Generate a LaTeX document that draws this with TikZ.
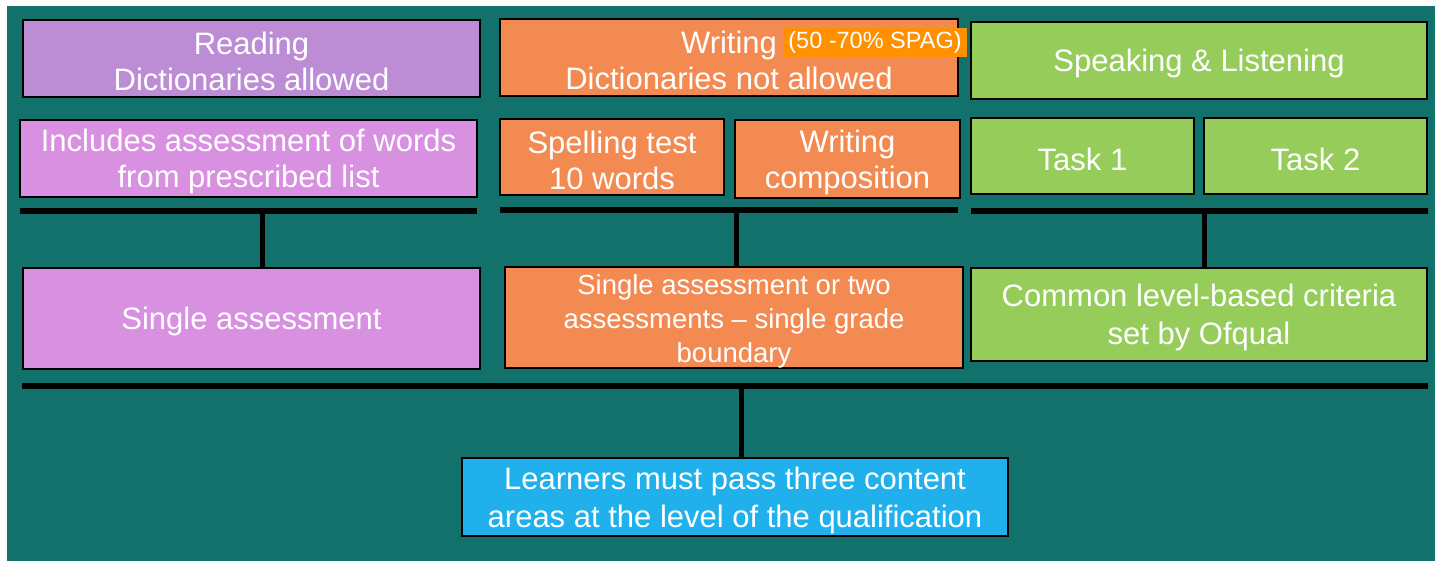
\documentclass[tikz,border=0pt]{standalone}
\usepackage{fontspec}
\setmainfont{Liberation Sans}
\definecolor{bgc}{RGB}{19,113,108}
\definecolor{readc}{RGB}{188,141,212}
\definecolor{pinkc}{RGB}{216,144,224}
\definecolor{orc}{RGB}{243,138,82}
\definecolor{spagc}{RGB}{255,145,0}
\definecolor{grc}{RGB}{150,205,90}
\definecolor{bluec}{RGB}{32,176,236}
\newcommand\tsh{\rule{0pt}{29pt}}
\newcommand\tshs{\rule{0pt}{28pt}}
\begin{document}
\begin{tikzpicture}[x=1pt,y=-1pt,
  box/.style={draw=black, line width=2pt, text=white, align=center, inner sep=0pt,
    font=\fontsize{31}{36}\selectfont},
  bar/.style={line width=6pt, draw=black},
  vline/.style={line width=5pt, draw=black}]
\useasboundingbox (0,0) rectangle (1435,560);
\fill[bgc] (7,6) rectangle (1436,561);
% row 1
\node[box, fill=readc, minimum width=457pt, minimum height=77pt] (read) at (251.5,58.5) {\tsh Reading\\Dictionaries allowed};
\node[box, fill=orc, minimum width=458pt, minimum height=77pt] (writ) at (729,57.5) {\tsh Writing\\Dictionaries not allowed};
\node[box, fill=grc, minimum width=456pt, minimum height=77pt] (speak) at (1199,60.5) {\tsh Speaking \& Listening};
\node[fill=spagc, text=white, inner sep=0pt, minimum width=184pt, minimum height=29pt,
  font=\fontsize{23.5}{28}\selectfont] (spag) at (875,42.5) {(50 -70\% SPAG)};
% row 2
\node[box, fill=pinkc, minimum width=457pt, minimum height=77pt] (incl) at (248.5,158.5) {\tsh Includes assessment of words\\from prescribed list};
\node[box, fill=orc, minimum width=224pt, minimum height=76pt] (spell) at (612,157) {\tsh Spelling test\\10 words};
\node[box, fill=orc, minimum width=225pt, minimum height=78pt] (comp) at (847.5,159) {\tsh Writing\\composition};
\node[box, fill=grc, minimum width=223pt, minimum height=76pt] (task1) at (1082.5,156) {\tsh Task 1};
\node[box, fill=grc, minimum width=223pt, minimum height=76pt] (task2) at (1315.5,156) {\tsh Task 2};
% row 3
\node[box, fill=pinkc, minimum width=457pt, minimum height=101pt] (single) at (251.5,318.5) {\tsh Single assessment};
\node[box, fill=orc, minimum width=458pt, minimum height=99pt, font=\fontsize{27.5}{34}\selectfont] (two) at (734,317.5) {\tshs Single assessment or two\\assessments -- single grade\\boundary};
\node[box, fill=grc, minimum width=456pt, minimum height=93pt, font=\fontsize{31}{38}\selectfont] (common) at (1199,314.5) {\tsh Common level-based criteria\\set by Ofqual};
% bottom
\node[box, fill=bluec, minimum width=546pt, minimum height=78pt, font=\fontsize{31}{38}\selectfont] (learn) at (735,497) {\tsh Learners must pass three content\\areas at the level of the qualification};
% bars and connectors
\coordinate (b1l) at (20,211);  \coordinate (b1r) at (477,211);  \coordinate (b1) at (262,211);
\coordinate (b2l) at (500,210); \coordinate (b2r) at (958,210);  \coordinate (b2) at (736,210);
\coordinate (b3l) at (971,211); \coordinate (b3r) at (1428,211); \coordinate (b3) at (1204.5,211);
\coordinate (b4l) at (22,385.5); \coordinate (b4r) at (1428,385.5); \coordinate (b4) at (741,385.5);
\draw[bar] (b1l) -- (b1r);
\draw[bar] (b2l) -- (b2r);
\draw[bar] (b3l) -- (b3r);
\draw[bar] (b4l) -- (b4r);
\draw[vline] (b1) -- (b1 |- single.north);
\draw[vline] (b2) -- (b2 |- two.north);
\draw[vline] (b3) -- (b3 |- common.north);
\draw[vline] (b4) -- (b4 |- learn.north);
\end{tikzpicture}
\end{document}
